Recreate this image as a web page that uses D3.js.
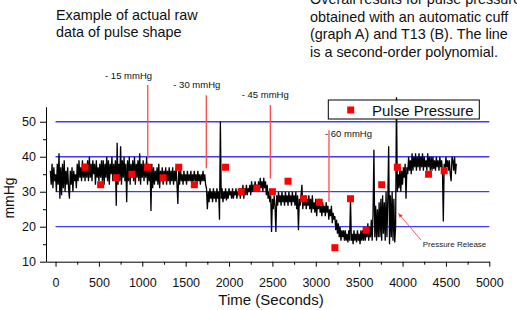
<!DOCTYPE html>
<html>
<head>
<meta charset="utf-8">
<script src="https://cdn.jsdelivr.net/npm/d3@7"></script>
<style>
  html, body { margin: 0; padding: 0; background: #fff; }
  svg { display: block; font-family: "Liberation Sans", Arial, sans-serif; }
</style>
</head>
<body>
<script>
// ---------------- DATA ----------------
// raw pressure trace (mmHg), one sample every rawStep seconds starting at rawStart
const rawStart = -60;
const rawStep = 10;
const rawValues = [
  36,32,38,31,37,33,35,30,38,32, 41,28,37,29,38,31,39,30,36,32,
  37,31,28,36,32,37,30,36,33,35, 31,38,33,39,34,37,33,39,34,38,
  33,38,34,39,33,40,34,38,33,39, 35,38,32,39,34,37,33,38,34,39,
  33,39,32,38,34,40,33,39,32,38, 35,40,33,38,34,39,26,44,32,38,
  33,43,32,39,34,40,33,38,27,39, 33,40,32,38,34,39,33,40,32,38,
  34,39,33,41,32,38,34,39,33,38, 34,40,32,38,33,37,24.5,38,31,37,
  32,36,33,37,32,38,31,36,33,37, 32,36,34,37,32,36,33,37,32,36,
  33,37,32,36,33,37,32,26.5,36,32, 37,33,35,32,36,33,35,32,36,33,
  35,33,36,32,35,33,36,33,35,32, 36,33,35,32,35,33,36,33,35,32,
  31,25,30,27,31,28,30,27,31,28, 30,27,31,28,30,22,50,28,31,27,
  30,28,31,27.5,30,28,31,29,30,28, 31,28,30,29,31,28,30,29,31,28,
  31,29,32,28,31,29,32,29,31,30, 32,29,33,30,32,30,33,31,32,30,
  33,30,34,31,33,30,34,31,33,29, 32,28,30,27,29,18.5,28,25,29,26,
  18.5,29,26,30,27,29,26,30,27,29, 26,30,27,29,26,30,27,29,26,30,
  27,29,26,30,25,29,19,28,26,29, 32,25,28,26,29,25,28,26,29,25,
  28,24,29,25,27,24,28,23,27,25, 28,24,26,23,27,24,26,23,27,24,
  26,22,25,23,26,21,24,22,23,19, 22,18,21,17,20,16,19,17,19,16,
  19,16,18,15.5,19,16,28,16,18,15, 19,16,18,15.5,19,16,18,15,19,16,
  19,16,20,16,19,17,21,16,20,17, 22,16,24,42,17,26,16,25,17,27,
  17,28,16,29,18,27,16,30,17,28, 43,15,29,17,30,16,28,15.5,20,57,
  30,35,31,37,30,36,32,37,34,38, 28,37,35,40,36,39,35,41,36,40,
  37,41,36,40,37,41,36,40,37,41, 36,40,37,39,36,41,37,40,36,40,
  36,40,36.5,39,36,40,37,39,36,40, 37,39,36,21.5,38,36,40,37,39,36,
  39,35,33,40,39,36,40,35,38
];

// pulse pressure estimates
const pulseTime  = [340, 520, 700, 880, 1060, 1240, 1420, 1600, 1960, 2140, 2320, 2500, 2680, 2860, 3040, 3220, 3400, 3580, 3760, 3940, 4300, 4480];
const pulseValue = [37, 32, 34, 35, 37, 34, 37, 32, 37, 30, 31, 30, 33, 28, 27, 14, 28, 19, 32, 37, 35, 36];

// cuff step annotations
const stepLabels = ["- 15 mmHg", "- 30 mmHg", "- 45 mmHg", "- 60 mmHg"];
const stepTime   = [1063, 1738, 2476, 3152];
const stepTop    = [60.5, 57.6, 54.8, 47.6];
const stepBottom = [39.5, 36.7, 33.8, 27.1];

const gridValues = [20, 30, 40, 50];
const xTickValues = [0, 500, 1000, 1500, 2000, 2500, 3000, 3500, 4000, 4500, 5000];
const xMinorValues = [250, 750, 1250, 1750, 2250, 2750, 3250, 3750, 4250, 4750];
const yTickValues = [10, 20, 30, 40, 50];
const yMinorValues = [15, 25, 35, 45];

const leftNote = ["Example of actual raw", "data of pulse shape"];
const rightNote = ["Overall results for pulse pressure", "obtained with an automatic cuff", "(graph A) and T13 (B). The line", "is a second-order polynomial."];

// ---------------- CHART ----------------
const W = 517, H = 310;
const svg = d3.select("body").append("svg").attr("width", W).attr("height", H);

const x = d3.scaleLinear().domain([-110, 5000]).range([46, 489.3]);
const y = d3.scaleLinear().domain([10, 54.3]).range([261.7, 106.7]);

// notes
const tL = svg.append("text").attr("font-size", 14.4).attr("fill", "#111");
leftNote.forEach((s, i) => tL.append("tspan").attr("x", 56).attr("y", 20 + i * 16.7).text(s));
const tR = svg.append("text").attr("font-size", 14.4).attr("fill", "#111");
rightNote.forEach((s, i) => tR.append("tspan").attr("x", 310).attr("y", 4.2 + i * 17.5).text(s));

// blue reference lines
svg.append("g").selectAll("line").data(gridValues).join("line")
  .attr("x1", x(0)).attr("x2", x(5000))
  .attr("y1", d => y(d)).attr("y2", d => y(d))
  .attr("stroke", "#3c3cff").attr("stroke-width", 1.3);

// raw trace
const line = d3.line().x((d, i) => x(rawStart + i * rawStep)).y(d => y(d));
svg.append("path").datum(rawValues).attr("d", line)
  .attr("fill", "none").attr("stroke", "#000").attr("stroke-width", 1.3)
  .attr("stroke-linejoin", "bevel");

// pulse pressure squares
const sq = 7;
svg.append("g").selectAll("rect").data(pulseTime).join("rect")
  .attr("x", d => x(d) - sq / 2)
  .attr("y", (d, i) => y(pulseValue[i]) - sq / 2)
  .attr("width", sq).attr("height", sq).attr("fill", "#ff0000");

// step annotation lines
svg.append("g").selectAll("line").data(stepTime).join("line")
  .attr("x1", d => x(d)).attr("x2", d => x(d))
  .attr("y1", (d, i) => y(stepTop[i])).attr("y2", (d, i) => y(stepBottom[i]))
  .attr("stroke", "#ff4a4a").attr("stroke-width", 1.3);
const labelDx = [-42.7, -33, -28.6, -4];
const labelDy = [-6, -6.7, -6.7, 6.5];
svg.append("g").selectAll("text").data(stepLabels).join("text")
  .attr("x", (d, i) => x(stepTime[i]) + labelDx[i])
  .attr("y", (d, i) => y(stepTop[i]) + labelDy[i])
  .attr("font-size", 9.5).attr("fill", "#111").text(d => d);

// axes
const gx = svg.append("g").attr("transform", `translate(0,${y(10)})`);
gx.call(d3.axisBottom(x).tickValues(xTickValues).tickFormat(d3.format("d")).tickSize(5).tickSizeOuter(0).tickPadding(11));
gx.append("g").call(d3.axisBottom(x).tickValues(xMinorValues).tickSize(3).tickFormat(""))
  .select(".domain").remove();
const gy = svg.append("g").attr("transform", `translate(${x(-110)},0)`);
gy.call(d3.axisLeft(y).tickValues(yTickValues).tickFormat(d3.format("d")).tickSize(6).tickSizeOuter(0).tickPadding(4));
gy.append("g").call(d3.axisLeft(y).tickValues(yMinorValues).tickSize(3).tickFormat(""))
  .select(".domain").remove();
svg.selectAll(".tick text").attr("font-size", 12.5).attr("fill", "#111").attr("font-family", "Liberation Sans, Arial, sans-serif");
svg.selectAll(".domain, .tick line").attr("stroke", "#000");

// axis titles
svg.append("text").attr("x", 271).attr("y", 305).attr("text-anchor", "middle")
  .attr("font-size", 15).attr("fill", "#111").text("Time (Seconds)");
svg.append("text").attr("transform", "translate(13.5,198) rotate(-90)").attr("text-anchor", "middle")
  .attr("font-size", 14).attr("fill", "#111").text("mmHg");

// legend
const lg = svg.append("g");
lg.append("rect").attr("x", 328.3).attr("y", 100).attr("width", 151).attr("height", 19)
  .attr("fill", "#fff").attr("stroke", "#000").attr("stroke-width", 1);
lg.append("rect").attr("x", 350.7 - sq / 2).attr("y", 110 - sq / 2).attr("width", sq).attr("height", sq).attr("fill", "#ff0000");
lg.append("text").attr("x", 372).attr("y", 115.7).attr("font-size", 15).attr("fill", "#111").text("Pulse Pressure");

// pressure release arrow
const defs = svg.append("defs");
defs.append("marker").attr("id", "ah").attr("viewBox", "0 0 10 10").attr("refX", 9).attr("refY", 5)
  .attr("markerWidth", 6).attr("markerHeight", 6).attr("orient", "auto")
  .append("path").attr("d", "M0,1 L10,5 L0,9 Z").attr("fill", "#ff3030");
svg.append("line").attr("x1", 421).attr("y1", 240).attr("x2", 398.5).attr("y2", 213.5)
  .attr("stroke", "#ff3030").attr("stroke-width", 0.8).attr("marker-end", "url(#ah)");
svg.append("text").attr("x", 422.7).attr("y", 247.3).attr("font-size", 8).attr("fill", "#222").text("Pressure Release");
</script>
</body>
</html>
